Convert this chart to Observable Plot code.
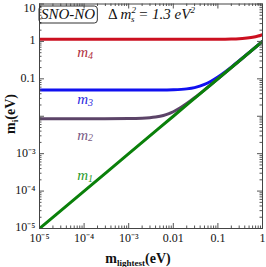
<!DOCTYPE html>
<html><head><meta charset="utf-8">
<script src="https://cdn.jsdelivr.net/npm/d3@7"></script>
<script src="https://cdn.jsdelivr.net/npm/@observablehq/plot@0.6"></script>
<style>body{margin:0;background:#fff} svg{display:block}</style>
</head><body><div id="chart"></div>
<script>
// ---- data ----
const m1X = [1e-5, 1e-4, 1e-3, 1e-2, 1e-1, 1];
const m1Y = [1e-5, 1e-4, 1e-3, 1e-2, 1e-1, 1];
const m2X = [1e-5, 1e-4, 1e-3, 2e-3, 4e-3, 6e-3, 8e-3, 0.01, 0.015, 0.02, 0.03, 0.05, 0.07, 0.1, 0.3, 1];
const m2Y = [0.0086, 0.0086, 0.00866, 0.00883, 0.0095, 0.0105, 0.0118, 0.0132, 0.0173, 0.0218, 0.0312, 0.0507, 0.0705, 0.1004, 0.3001, 1.0];
const m3X = [1e-5, 1e-4, 1e-3, 0.005, 0.01, 0.02, 0.03, 0.05, 0.07, 0.1, 0.15, 0.2, 0.3, 0.5, 1];
const m3Y = [0.05, 0.05, 0.05, 0.0502, 0.051, 0.0539, 0.0583, 0.0707, 0.086, 0.1118, 0.158, 0.206, 0.304, 0.502, 1.001];
const m4X = [1e-5, 1e-3, 0.01, 0.1, 0.2, 0.3, 0.4, 0.5, 0.6, 0.8, 1];
const m4Y = [1.14, 1.14, 1.14, 1.145, 1.158, 1.179, 1.208, 1.245, 1.288, 1.393, 1.517];

const seriesNames = ["m4", "m3", "m2", "m1"];
const seriesColors = ["#cc1020", "#1010f0", "#5c4468", "#0a800a"];
const labelSubs = ["4", "3", "2", "1"];
const labelColors = ["#b0303c", "#2a2ae0", "#785a84", "#2a9a2a"];
const labelX = [1e-4, 1e-4, 1e-4, 1e-4];
const labelY = [0.5, 0.028, 0.0032, 2.6e-4];

const xTicks = [1e-5, 1e-4, 1e-3, 1e-2, 1e-1, 1];
const xTickLabels = ["10⁻⁵", "10⁻⁴", "10⁻³", "0.01", "0.1", "1"];
const yTicks = [1e-5, 1e-4, 1e-3, 1e-1, 1];
const yTickLabels = ["10⁻⁵", "10⁻⁴", "10⁻³", "0.1", "1"];
const yTopTick = [10];
const yTopLabel = ["10"];
const yMajor = [1e-5, 1e-4, 1e-3, 1e-2, 1e-1, 1, 10];

// ---- build table ----
const seriesX = [m4X, m3X, m2X, m1X];
const seriesY = [m4Y, m3Y, m2Y, m1Y];
const rows = [];
seriesNames.forEach((s, i) => seriesX[i].forEach((x, j) => rows.push({s, x, y: seriesY[i][j]})));
const labels = labelSubs.map((sub, i) => ({sub, x: labelX[i], y: labelY[i], c: labelColors[i]}));

const W = 266, H = 267, mt = 3.5, mb = 39, ml = 39, mr = 4;
const pW = W - ml - mr, pH = H - mt - mb;
const xMinor = d3.scaleLog().domain([1e-5, 1]).ticks().filter(d => !xTicks.includes(d));
const yMinor = d3.scaleLog().domain([1e-5, 10]).ticks().filter(d => !yMajor.includes(d));
const font = "Liberation Serif, Times New Roman, serif";
const tickStroke = "#555";

const plot = Plot.plot({
  width: W, height: H,
  marginTop: mt, marginBottom: mb, marginLeft: ml, marginRight: mr,
  style: {fontFamily: font, background: "#fff"},
  x: {type: "log", domain: [1e-5, 1]},
  y: {type: "log", domain: [1e-5, 10]},
  marks: [
    Plot.line(rows, {x: "x", y: "y", z: "s", stroke: d => seriesColors[seriesNames.indexOf(d.s)], strokeWidth: 3, curve: "monotone-x", clip: true}),
    Plot.ruleX(xTicks, {x: d => d, insetTop: pH - 5, stroke: tickStroke}),
    Plot.ruleX(xTicks, {x: d => d, insetBottom: pH - 5, stroke: tickStroke}),
    Plot.ruleX(xMinor, {x: d => d, insetTop: pH - 2.5, stroke: tickStroke}),
    Plot.ruleX(xMinor, {x: d => d, insetBottom: pH - 2.5, stroke: tickStroke}),
    Plot.ruleY(yMajor, {y: d => d, insetRight: pW - 5, stroke: tickStroke}),
    Plot.ruleY(yMajor, {y: d => d, insetLeft: pW - 5, stroke: tickStroke}),
    Plot.ruleY(yMinor, {y: d => d, insetRight: pW - 2.5, stroke: tickStroke}),
    Plot.ruleY(yMinor, {y: d => d, insetLeft: pW - 2.5, stroke: tickStroke}),
    Plot.axisX(xTicks, {tickSize: 0, tickPadding: 5, tickFormat: d => xTickLabels[xTicks.indexOf(d)], fontSize: 12, fill: "#111", label: null}),
    Plot.axisY(yTicks, {tickSize: 0, tickPadding: 4, dy: -1, tickFormat: d => yTickLabels[yTicks.indexOf(d)], fontSize: 12, fill: "#111", label: null}),
    Plot.axisY(yTopTick, {tickSize: 0, tickPadding: 4, dy: 4, tickFormat: d => yTopLabel[yTopTick.indexOf(d)], fontSize: 12, fill: "#111", label: null}),
    Plot.frame({stroke: "#444", strokeWidth: 1}),
    Plot.text(labels, {x: "x", y: "y", text: () => "m", fill: "c", textAnchor: "end", dx: 4, fontSize: 15, fontStyle: "italic"}),
    Plot.text(labels, {x: "x", y: "y", text: "sub", fill: "c", textAnchor: "start", dx: 4, dy: 3, fontSize: 10, fontStyle: "italic"})
  ]
});
document.getElementById("chart").appendChild(plot);

// ---- extra annotations (real text) ----
const svg = d3.select(plot);
const g = svg.append("g").attr("font-family", font).attr("fill", "#111").attr("text-anchor", "start");
const sno = g.append("text").attr("x", 41).attr("y", 19).attr("font-size", 15).attr("font-style", "italic").text("SNO-NO");
const bb = sno.node().getBBox();
g.insert("rect", "text").attr("x", ml).attr("y", bb.y).attr("width", bb.x + bb.width + 2 - ml).attr("height", bb.height + 1)
  .attr("rx", 3).attr("fill", "none").attr("stroke", "#333");
const dm = g.append("text").attr("x", 108).attr("y", 19).attr("font-size", 15).attr("font-style", "italic");
dm.append("tspan").attr("font-style", "normal").text("Δ ");
dm.append("tspan").text("m");
dm.append("tspan").attr("font-size", 9).attr("dy", -6).text("2");
dm.append("tspan").attr("font-size", 9).attr("dx", -5).attr("dy", 9).text("s");
dm.append("tspan").attr("dy", -3).text(" = 1.3 eV");
dm.append("tspan").attr("font-size", 9).attr("dy", -6).text("2");

const xl = g.append("text").attr("x", 138).attr("y", 263).attr("text-anchor", "middle").attr("font-size", 14).attr("font-weight", "bold");
xl.append("tspan").text("m");
xl.append("tspan").attr("font-size", 9).attr("dy", 3).text("lightest");
xl.append("tspan").attr("dy", -3).text("(eV)");

const yl = g.append("text").attr("transform", "translate(15,114) rotate(-90)").attr("text-anchor", "middle").attr("font-size", 14).attr("font-weight", "bold");
yl.append("tspan").text("m");
yl.append("tspan").attr("font-size", 9).attr("dy", 3).text("i");
yl.append("tspan").attr("dy", -3).text("(eV)");
</script>
</body></html>
